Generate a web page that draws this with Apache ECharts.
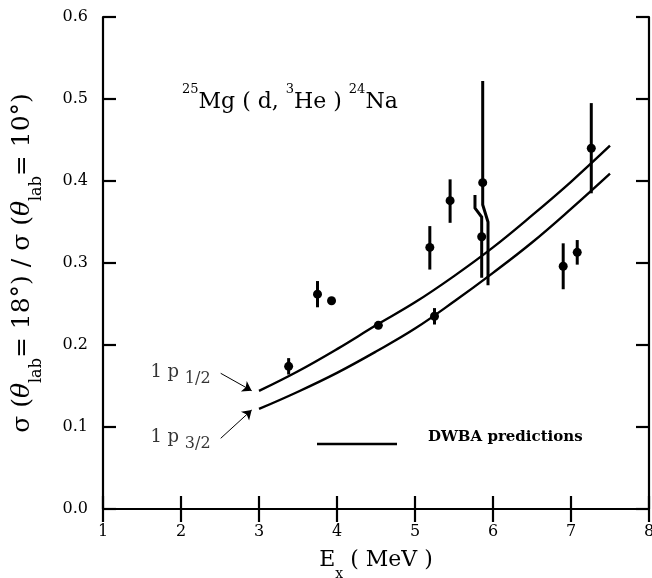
<!DOCTYPE html>
<html>
<head>
<meta charset="utf-8">
<script src="https://cdn.jsdelivr.net/npm/echarts@6/dist/echarts.min.js"></script>
<style>html,body{margin:0;padding:0;background:#fff}#c{width:652px;height:578px}</style>
</head>
<body>
<div id="c"></div>
<script>
// ---- data ----
const xTicks = [1, 2, 3, 4, 5, 6, 7, 8];
const yTicks = [0.0, 0.1, 0.2, 0.3, 0.4, 0.5, 0.6];
// measured points: Ex (MeV), ratio, error low, error high
const ptX  = [3.38, 3.75, 3.93, 4.53, 5.25, 5.19, 5.45, 5.868, 5.855, 6.90, 7.08, 7.26];
const ptY  = [0.174, 0.262, 0.254, 0.224, 0.235, 0.319, 0.376, 0.398, 0.332, 0.296, 0.313, 0.440];
const errLo= [0.164, 0.246, 0.254, 0.224, 0.225, 0.292, 0.349, 0.273, 0.282, 0.268, 0.298, 0.385];
const errHi= [0.184, 0.278, 0.254, 0.224, 0.245, 0.345, 0.402, 0.522, 0.383, 0.324, 0.328, 0.495];
// broken (offset) error bars: side 1 = lower part shifted, -1 = upper part shifted, 0 = none
const brkSide = [0, 0, 0, 0, 0, 0, 0, 1, -1, 0, 0, 0];
const brkX    = [0, 0, 0, 0, 0, 0, 0, 5.936, 5.769, 0, 0, 0];
const brkY1   = [0, 0, 0, 0, 0, 0, 0, 0.371, 0.367, 0, 0, 0];
const brkY2   = [0, 0, 0, 0, 0, 0, 0, 0.350, 0.356, 0, 0, 0];
// DWBA predictions
const curveX  = [3.0, 3.5, 4.0, 4.5, 5.0, 5.5, 6.0, 6.5, 7.0, 7.5];
const p12     = [0.144, 0.168, 0.195, 0.224, 0.252, 0.284, 0.319, 0.358, 0.399, 0.443];
const p32     = [0.122, 0.143, 0.166, 0.192, 0.220, 0.253, 0.288, 0.325, 0.366, 0.409];
// annotation labels and arrows (data coordinates)
const annText = ['1 p 1/2', '1 p 3/2'];
const annPos  = [[1.994, 0.163], [1.994, 0.084]];
const arrows  = [[[2.509, 0.1655], [2.906, 0.1443]], [[2.509, 0.0862], [2.906, 0.1207]]];

const FONT = 'DejaVu Serif';
const chart = echarts.init(document.getElementById('c'));

const pts = ptX.map((x, i) => [x, ptY[i]]);
const errData = ptX.map((x, i) => [x, errLo[i], errHi[i], brkSide[i], brkX[i], brkY1[i], brkY2[i]]);

const axisBase = {
  axisLine: {show: true, lineStyle: {color: '#000', width: 2.2}},
  axisTick: {show: true, inside: true, length: 13, lineStyle: {color: '#000', width: 2.2}},
  splitLine: {show: false}
};

chart.setOption({
  animation: false,
  backgroundColor: '#fff',
  title: {
    text: '{sup|25}{m|Mg ( d, }{sup|3}{m|He ) }{sup|24}{m|Na}',
    left: 177, top: 78,
    textStyle: {
      rich: {
        m: {fontFamily: FONT, fontSize: 22, fontWeight: 'normal', color: '#000', lineHeight: 30, verticalAlign: 'bottom'},
        sup: {fontFamily: FONT, fontSize: 13, fontWeight: 'normal', color: '#000', lineHeight: 13, verticalAlign: 'top'}
      }
    }
  },
  grid: {left: 103, right: 3, top: 17, bottom: 69, outerBoundsMode: 'none', containLabel: false},
  xAxis: [
    Object.assign({}, axisBase, {
      type: 'value', min: 1, max: 8, interval: 1, position: 'bottom',
      name: '{m|E}{s|x}{m| ( MeV )}', nameLocation: 'middle', nameGap: 40,
      nameTextStyle: {rich: {
        m: {fontFamily: FONT, fontSize: 22, color: '#000', lineHeight: 32, verticalAlign: 'top'},
        s: {fontFamily: FONT, fontSize: 14, color: '#000', lineHeight: 14, verticalAlign: 'bottom'}
      }},
      axisLabel: {margin: 15, fontFamily: FONT, fontSize: 16, color: '#000',
        formatter: v => xTicks.indexOf(v) >= 0 ? String(v) : ''}
    }),
    Object.assign({}, axisBase, {
      type: 'value', min: 1, max: 8, interval: 1, position: 'top', axisLabel: {show: false}
    })
  ],
  yAxis: [
    Object.assign({}, axisBase, {
      type: 'value', min: 0, max: 0.6, interval: 0.1, position: 'left',
      name: '{t|σ (}{i|θ}{s|lab}{t|= 18°) / σ (}{i|θ}{s|lab}{t|= 10°)}',
      nameLocation: 'middle', nameRotate: 90, nameGap: 58,
      nameTextStyle: {rich: {
        t: {fontFamily: FONT, fontSize: 25, color: '#000', lineHeight: 35, verticalAlign: 'top'},
        i: {fontFamily: FONT, fontSize: 25, fontStyle: 'italic', color: '#000', lineHeight: 35, verticalAlign: 'top'},
        s: {fontFamily: FONT, fontSize: 16, color: '#000', lineHeight: 16, verticalAlign: 'bottom'}
      }},
      axisLabel: {margin: 15, fontFamily: FONT, fontSize: 16, color: '#000',
        formatter: v => v.toFixed(1)}
    }),
    Object.assign({}, axisBase, {
      type: 'value', min: 0, max: 0.6, interval: 0.1, position: 'right', axisLabel: {show: false}
    })
  ],
  series: [
    {
      name: '1p1/2', type: 'line', smooth: 0.4, symbol: 'none',
      data: curveX.map((x, i) => [x, p12[i]]),
      lineStyle: {color: '#000', width: 2.4}, z: 2
    },
    {
      name: '1p3/2', type: 'line', smooth: 0.4, symbol: 'none',
      data: curveX.map((x, i) => [x, p32[i]]),
      lineStyle: {color: '#000', width: 2.4}, z: 2
    },
    {
      type: 'custom', name: 'err', z: 3,
      data: errData,
      renderItem: function (params, api) {
        const x = api.value(0), lo = api.value(1), hi = api.value(2);
        const side = api.value(3), bx = api.value(4), b1 = api.value(5), b2 = api.value(6);
        let path;
        if (side === 1) {
          path = [[x, hi], [x, b1], [bx, b2], [bx, lo]];
        } else if (side === -1) {
          path = [[bx, hi], [bx, b1], [x, b2], [x, lo]];
        } else {
          if (hi - lo < 1e-9) return null;
          path = [[x, lo], [x, hi]];
        }
        return {
          type: 'polyline',
          shape: {points: path.map(p => api.coord(p))},
          style: {stroke: '#000', lineWidth: 3, fill: null}
        };
      }
    },
    {
      type: 'scatter', name: 'data', z: 4,
      data: pts, symbol: 'circle', symbolSize: 9,
      itemStyle: {color: '#000', opacity: 1}
    },
    {
      type: 'lines', coordinateSystem: 'cartesian2d', z: 3,
      data: arrows.map(a => ({coords: a})),
      symbol: ['none', 'arrow'], symbolSize: [0, 9],
      lineStyle: {color: '#000', width: 1, opacity: 1}
    },
    {
      type: 'scatter', name: 'ann', z: 5, symbolSize: 0,
      data: annPos.map((p, i) => ({value: p, name: annText[i]})),
      label: {
        show: true, position: 'inside',
        formatter: p => {
          const parts = p.name.split(' ');
          return '{a|' + parts[0] + ' ' + parts[1] + ' }{s|' + parts[2] + '}';
        },
        rich: {
          a: {fontFamily: FONT, fontSize: 18, color: '#000', lineHeight: 24, verticalAlign: 'top'},
          s: {fontFamily: FONT, fontSize: 16, color: '#000', lineHeight: 16, verticalAlign: 'bottom'}
        }
      }
    }
  ],
  graphic: [
    {type: 'line', shape: {x1: 317, y1: 444, x2: 397, y2: 444}, style: {stroke: '#000', lineWidth: 2.5}},
    {type: 'text', left: 428, top: 430, style: {text: 'DWBA predictions', fontFamily: FONT, fontWeight: 'bold', fontSize: 15, fill: '#000'}}
  ]
});
</script>
</body>
</html>
